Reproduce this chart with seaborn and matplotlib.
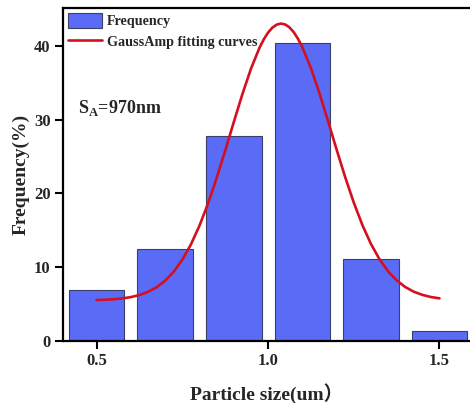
import matplotlib
matplotlib.use("Agg")
import matplotlib.pyplot as plt
import seaborn as sns
import pandas as pd

# Data
sizes = [0.5, 0.7, 0.9, 1.1, 1.3, 1.5]
freq = [6.9, 12.5, 27.8, 40.3, 11.1, 1.35]

fit_x = [0.500, 0.525, 0.550, 0.575, 0.600, 0.625, 0.650, 0.675, 0.700, 0.725,
         0.750, 0.775, 0.800, 0.825, 0.850, 0.875, 0.900, 0.925, 0.950, 0.975,
         0.9875, 1.000, 1.0125, 1.025, 1.0375, 1.050, 1.0625, 1.075, 1.0875,
         1.100, 1.125, 1.150, 1.175, 1.200, 1.225,
         1.250, 1.275, 1.300, 1.325, 1.350, 1.375, 1.400, 1.425, 1.450, 1.475, 1.500]
fit_y = [5.55, 5.58, 5.65, 5.76, 5.94, 6.22, 6.65, 7.27, 8.17, 9.38,
         11.0, 13.06, 15.61, 18.62, 22.05, 25.77, 29.63, 33.40, 36.85, 39.71,
         40.85, 41.77, 42.44, 42.85, 43.00, 42.88, 42.48, 41.83, 40.93,
         39.81, 36.97, 33.55, 29.79, 25.93, 22.19,
         18.75, 15.72, 13.15, 11.07, 9.44, 8.21, 7.31, 6.67, 6.24, 5.95, 5.77]

xticks = [0.5, 1.0, 1.5]
xtick_labels = ["0.5", "1.0", "1.5"]
yticks = [0, 10, 20, 30, 40]

sns.set_theme(style="white")
plt.rcParams['font.family'] = ['Liberation Serif', 'Noto Sans CJK SC']
plt.rcParams['font.weight'] = 'bold'
plt.rcParams['mathtext.fontset'] = 'custom'
plt.rcParams['mathtext.rm'] = 'Liberation Serif:bold'
plt.rcParams['mathtext.bf'] = 'Liberation Serif:bold'

fig = plt.figure(figsize=(4.70, 4.03), dpi=100)
ax = fig.add_axes([0.134, 0.154, 0.866, 0.826])

bar_df = pd.DataFrame({"size": sizes, "freq": freq})
fit_df = pd.DataFrame({"x": fit_x, "y": fit_y})

sns.barplot(data=bar_df, x="size", y="freq", native_scale=True, width=0.81,
            color="#5a6cf5", saturation=1, edgecolor="#3a3f6a", linewidth=0.8,
            ax=ax, label="Frequency")
sns.lineplot(data=fit_df, x="x", y="y", color="#d41020", linewidth=1.9,
             ax=ax, label="GaussAmp fitting curves")

ax.set_xlim(0.402, 1.589)
ax.set_ylim(0, 45.1)
ax.set_xticks(xticks)
ax.set_xticklabels(xtick_labels)
ax.set_yticks(yticks)

for s in ["left", "bottom", "top"]:
    ax.spines[s].set_visible(True)
    ax.spines[s].set_linewidth(1.6)
    ax.spines[s].set_color("black")
ax.spines["right"].set_visible(False)

ax.tick_params(axis="both", which="major", direction="out", length=6, width=1.5,
               color="black", labelsize=12, pad=3, bottom=True, left=True)
for lab in ax.get_xticklabels() + ax.get_yticklabels():
    lab.set_fontweight("bold")

ax.set_xlabel("Particle size(um）", fontsize=14, fontweight="bold", labelpad=10)
ax.set_ylabel("Frequency(%)", fontsize=14, fontweight="bold", labelpad=3)

ax.text(0.036, 0.70, r"S$_\mathrm{A}$=970nm", transform=ax.transAxes,
        fontsize=13, fontweight="bold", va="center", ha="left")

handles, labels = ax.get_legend_handles_labels()
order = [labels.index("Frequency"), labels.index("GaussAmp fitting curves")]
leg = ax.legend([handles[i] for i in order], [labels[i] for i in order],
                loc="upper left", frameon=False, fontsize=10.2, handlelength=2.4,
                handleheight=1.2, borderaxespad=0.1, labelspacing=0.45,
                handletextpad=0.35, borderpad=0.25)
for t in leg.get_texts():
    t.set_fontweight("bold")

fig.savefig("out.png", dpi=100)
